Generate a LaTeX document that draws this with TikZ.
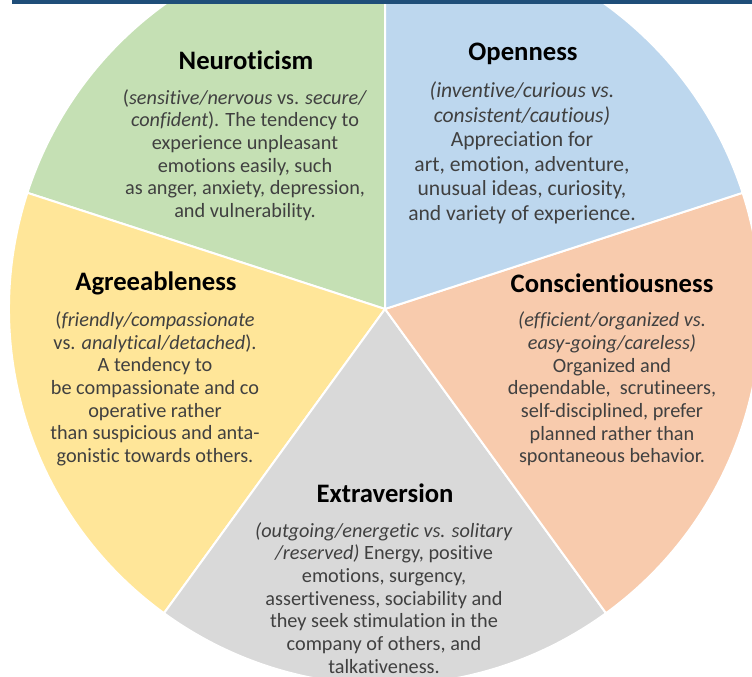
\documentclass[tikz,border=0pt]{standalone}
\usepackage{fontspec}
\setmainfont{Carlito}[Ligatures={NoCommon,NoRequired,NoContextual}]
\usepackage{tikz}

\definecolor{neurogreen}{HTML}{C5E0B4}
\definecolor{openblue}{HTML}{BDD7EE}
\definecolor{conscorange}{HTML}{F8CBAD}
\definecolor{extragrey}{HTML}{D9D9D9}
\definecolor{agreeyellow}{HTML}{FFE699}
\definecolor{barblue}{HTML}{1F4E79}
\definecolor{bodytext}{HTML}{404040}

\begin{document}
\begin{tikzpicture}[x=0.75pt, y=0.75pt,
  slice/.style={draw=white, line width=1.5pt},
  trait/.style={anchor=center, text=black, font=\fontsize{20}{24}\selectfont\bfseries},
  blurb/.style={anchor=center, align=center, inner sep=0pt, text=bodytext, font=\fontsize{15.2}{17}\selectfont}]
\useasboundingbox (-385,-368) rectangle (367,309);
\clip (-385,-368) rectangle (367,309);
\fill[white] (-385,-368) rectangle (367,309);

\filldraw[slice, fill=neurogreen] (0,0) -- (90:376) arc[start angle=90, end angle=162, radius=376] -- cycle;
\filldraw[slice, fill=agreeyellow] (0,0) -- (162:376) arc[start angle=162, end angle=234, radius=376] -- cycle;
\filldraw[slice, fill=extragrey] (0,0) -- (234:376) arc[start angle=234, end angle=306, radius=376] -- cycle;
\filldraw[slice, fill=conscorange] (0,0) -- (306:376) arc[start angle=306, end angle=378, radius=376] -- cycle;
\filldraw[slice, fill=openblue] (0,0) -- (18:376) arc[start angle=18, end angle=90, radius=376] -- cycle;

\fill[barblue] (-373,305) rectangle (367,309);

\node[trait] (neuroticism) at (-139,249) {Neuroticism};
\node[blurb] (neuroticismtext) at (-140,154) {(\textit{sensitive/nervous} vs. \textit{secure/}\\ \textit{confident}). The tendency to\\ experience unpleasant\\ emotions easily, such\\ as anger, anxiety, depression,\\ and vulnerability.};

\node[trait] (openness) at (138,255) {Openness};
\node[blurb, font=\fontsize{16.2}{18.4}\selectfont] (opennesstext) at (137,156) {\textit{(inventive/curious vs.}\\ \textit{consistent/cautious)}\\ Appreciation for\\ art, emotion, adventure,\\ unusual ideas, curiosity,\\ and variety of experience.};

\node[trait] (agreeableness) at (-229,26) {Agreeableness};
\node[blurb] (agreeablenesstext) at (-230,-80) {(\textit{friendly/compassionate}\\ vs. \textit{analytical/detached}).\\ A tendency to\\ be compassionate and co\\ operative rather\\ than suspicious and anta-\\ gonistic towards others.};

\node[trait] (conscientiousness) at (227,26) {Conscientiousness};
\node[blurb] (conscientiousnesstext) at (227,-80) {\textit{(efficient/organized vs.}\\ \textit{easy-going/careless)}\\ Organized and\\ dependable,\ \ scrutineers,\\ self-disciplined, prefer\\ planned rather than\\ spontaneous behavior.};

\node[trait] (extraversion) at (0,-184) {Extraversion};
\node[blurb] (extraversiontext) at (-1,-289) {\textit{(outgoing/energetic vs. solitary}\\ \textit{/reserved)} Energy, positive\\ emotions, surgency,\\ assertiveness, sociability and\\ they seek stimulation in the\\ company of others, and\\ talkativeness.};
\end{tikzpicture}
\end{document}
